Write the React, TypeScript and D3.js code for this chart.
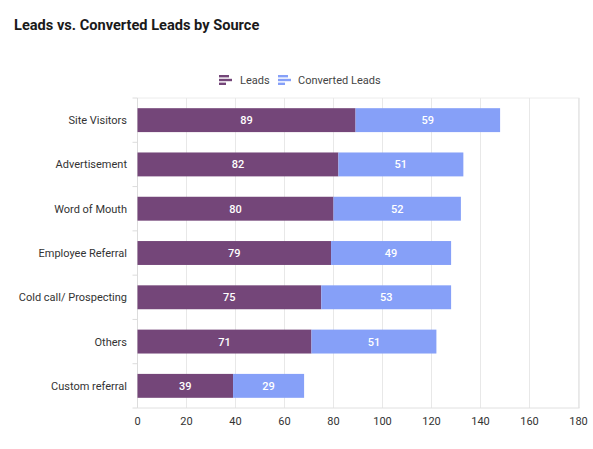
import React from "react";
import * as d3 from "d3";

const categories = ["Site Visitors", "Advertisement", "Word of Mouth", "Employee Referral", "Cold call/ Prospecting", "Others", "Custom referral"];
const leads = [89, 82, 80, 79, 75, 71, 39];
const converted = [59, 51, 52, 49, 53, 51, 29];
const xTicks = [0, 20, 40, 60, 80, 100, 120, 140, 160, 180];
const seriesNames = ["Leads", "Converted Leads"];
const colors = ["#744679", "#86a0f8"];

export default function App() {
  const W = 593, H = 449;
  const left = 137.5, right = 578.5, top = 98, bottom = 408;
  const x = d3.scaleLinear().domain([0, 180]).range([left, right]);
  const y = d3.scaleBand().domain(categories).range([top, bottom]).paddingInner(0.46).paddingOuter(0.23);
  const band = (bottom - top) / categories.length;
  const font = "Roboto, 'Noto Sans', sans-serif";
  const legendIcon = (cx: number, cy: number, c: string) => (
    <g>
      <rect x={cx} y={cy - 5} width={10} height={2.4} fill={c} />
      <rect x={cx} y={cy - 1.2} width={13} height={2.4} fill={c} />
      <rect x={cx} y={cy + 2.6} width={7} height={2.4} fill={c} />
    </g>
  );
  return (
    <svg width={W} height={H} style={{ position: "absolute", left: 0, top: 0, background: "#fff" }} fontFamily={font}>
      <text x={14} y={30} fontSize={14.6} fontWeight="bold" fill="#1a1a1a">Leads vs. Converted Leads by Source</text>
      {/* legend */}
      {legendIcon(219, 80, colors[0])}
      <text x={240} y={84} fontSize={11} fill="#444">{seriesNames[0]}</text>
      {legendIcon(278, 80, colors[1])}
      <text x={298} y={84} fontSize={11} fill="#444">{seriesNames[1]}</text>
      {/* grid */}
      <line x1={left} x2={right + 1} y1={top} y2={top} stroke="#ececec" />
      {xTicks.map((t) => (
        <line key={t} x1={x(t)} x2={x(t)} y1={top} y2={bottom} stroke={t === 0 ? "#dcdcdc" : "#e8e8e8"} />
      ))}
      <line x1={right + 1} x2={right + 1} y1={top} y2={bottom} stroke="#ececec" />
      {/* y ticks */}
      {d3.range(categories.length + 1).map((i) => (
        <line key={i} x1={left - 5} x2={left} y1={top + i * band} y2={top + i * band} stroke="#dcdcdc" />
      ))}
      <line x1={left} x2={right + 1} y1={bottom} y2={bottom} stroke="#e0e0e0" />
      {/* bars */}
      {categories.map((c, i) => {
        const y0 = y(c)!;
        const h = y.bandwidth();
        const x0 = x(0), x1 = x(leads[i]), x2 = x(leads[i] + converted[i]);
        return (
          <g key={c}>
            <rect x={x0} y={y0} width={x1 - x0} height={h} fill={colors[0]} />
            <rect x={x1} y={y0} width={x2 - x1} height={h} fill={colors[1]} />
            <text x={(x0 + x1) / 2} y={y0 + h / 2 + 4} textAnchor="middle" fontSize={11} fontWeight={500} fill="#fff">{leads[i]}</text>
            <text x={(x1 + x2) / 2} y={y0 + h / 2 + 4} textAnchor="middle" fontSize={11} fontWeight={500} fill="#fff">{converted[i]}</text>
            <text x={127} y={top + (i + 0.5) * band + 4} textAnchor="end" fontSize={11} fill="#333">{c}</text>
          </g>
        );
      })}
      {xTicks.map((t) => (
        <text key={t} x={x(t)} y={425} textAnchor="middle" fontSize={11} fill="#333">{t}</text>
      ))}
    </svg>
  );
}
